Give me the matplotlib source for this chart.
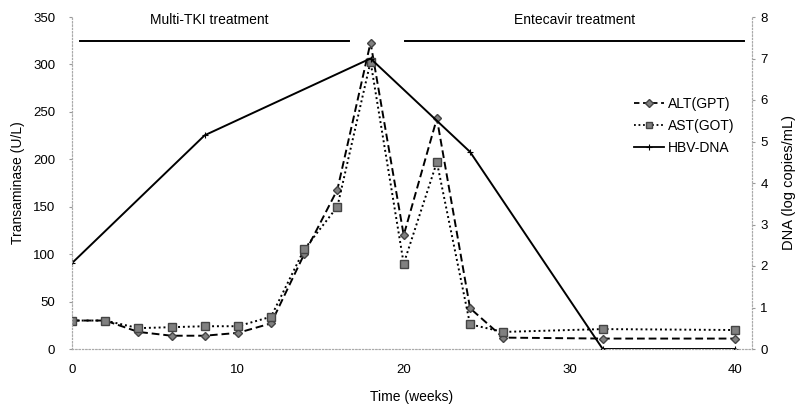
import numpy as np
import matplotlib
matplotlib.use("Agg")
import matplotlib.pyplot as plt
from matplotlib.lines import Line2D

plt.rcParams['font.family'] = ['Liberation Sans', 'DejaVu Sans']

# -----------------------------------------
# DATA
# -----------------------------------------

weeks = [0, 2, 4, 6, 8, 10, 12, 14, 16, 18, 20, 22, 24, 26, 32, 40]

alt = [30, 30, 18, 14, 14, 17, 27, 100, 168, 323, 120, 243, 43, 12, 11, 11]
ast = [30, 30, 22, 23, 24, 24, 34, 105, 150, 303, 90, 197, 26, 18, 21, 20]

dna_weeks = [0, 8, 18, 24, 32, 40]
hbv_dna = [2.07, 5.15, 7.0, 4.75, 0, 0]

treatments = ["Multi-TKI treatment", "Entecavir treatment"]
treat_start = [0.5, 20.1]
treat_end = [16.7, 40.5]
treat_text_x = [8.3, 30.3]

left_ticks = [0, 50, 100, 150, 200, 250, 300, 350]
right_ticks = [0, 1, 2, 3, 4, 5, 6, 7, 8]
x_ticks = [0, 10, 20, 30, 40]

# -----------------------------------------
# FIGURE
# -----------------------------------------

fig = plt.figure(figsize=(7.98, 4.07), dpi=100)

ax = fig.add_axes([72 / 798, 58 / 407, 680 / 798, 332 / 407])
ax2 = ax.twinx()

grey = '#808080'

ax.plot(weeks, alt, linestyle=(0, (4, 2)), color='black', lw=1.4,
        marker='D', markersize=4.5, markerfacecolor=grey,
        markeredgecolor='#444444', label='ALT(GPT)', zorder=3)

ax.plot(weeks, ast, linestyle=(0, (1, 1.5)), color='black', lw=1.4,
        marker='s', markersize=5.5, markerfacecolor=grey,
        markeredgecolor='#444444', label='AST(GOT)', zorder=3)

ax2.plot(dna_weeks, hbv_dna, linestyle='-', color='black', lw=1.4,
         marker='+', markersize=5, markeredgewidth=0.8,
         label='HBV-DNA', zorder=2)

# treatment periods
for name, x0, x1, xt in zip(treatments, treat_start, treat_end, treat_text_x):
    ax.plot([x0, x1], [325, 325], color='black', lw=1.4, clip_on=False)
    ax.text(xt, 347, name, ha='center', va='center', fontsize=10)

# -----------------------------------------
# AXES STYLE
# -----------------------------------------

ax.set_xlim(0, 41)
ax.set_ylim(0, 350)
ax2.set_ylim(0, 8)

ax.set_xticks(x_ticks)
ax.set_yticks(left_ticks)
ax2.set_yticks(right_ticks)

for a in (ax, ax2):
    a.spines['top'].set_visible(False)
    for s in ('left', 'right', 'bottom'):
        a.spines[s].set_linestyle((0, (1, 2)))
        a.spines[s].set_color('#aaaaaa')
        a.spines[s].set_linewidth(0.8)
    a.set_facecolor('none')

ax.tick_params(axis='y', length=2, color='#999999', pad=10, labelsize=9.5)
ax.tick_params(axis='x', length=0, pad=11, labelsize=9.5)
ax2.tick_params(axis='y', length=2, color='#999999', pad=4, labelsize=9.5)

ax.set_xlabel("Time (weeks)", fontsize=10, labelpad=10)
ax.set_ylabel("Transaminase (U/L)", fontsize=10, labelpad=6)
ax2.set_ylabel("DNA (log copies/mL)", fontsize=10.5, labelpad=10)

handles = [
    Line2D([], [], linestyle=(0, (3, 2)), color='black', lw=1.3,
           marker='D', markersize=4, markerfacecolor=grey,
           markeredgecolor='#444444'),
    Line2D([], [], linestyle=(0, (1, 1.5)), color='black', lw=1.3,
           marker='s', markersize=5, markerfacecolor=grey,
           markeredgecolor='#444444'),
    Line2D([], [], linestyle='-', color='black', lw=1.3,
           marker='+', markersize=5, markeredgewidth=0.8),
]
labels = ['ALT(GPT)', 'AST(GOT)', 'HBV-DNA']

fig.legend(handles, labels, loc='upper left',
           bbox_to_anchor=(628 / 798, 1 - 91 / 407),
           frameon=False, fontsize=10, handlelength=2.2,
           handletextpad=0.25, labelspacing=0.6, borderaxespad=0)

fig.savefig("out.png", dpi=100)
